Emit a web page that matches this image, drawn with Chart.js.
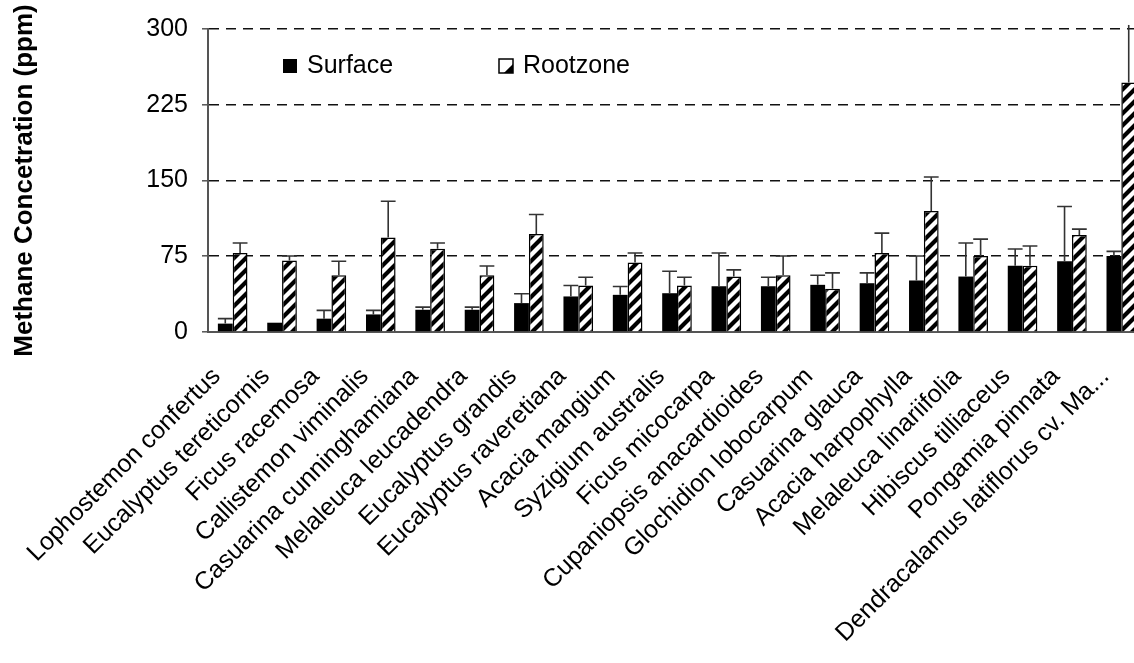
<!DOCTYPE html>
<html>
<head>
<meta charset="utf-8">
<script src="https://cdn.jsdelivr.net/npm/chart.js@4.4.0/dist/chart.umd.min.js"></script>
<style>
  html, body { margin: 0; padding: 0; background: #fff; overflow: hidden; }
  #wrap { width: 1146px; height: 663px; }
</style>
</head>
<body>
<div id="wrap"><canvas id="c" width="1146" height="663"></canvas></div>
<script>
// Methane concentration by tree species, surface vs root zone (ppm)
const species = [
  'Lophostemon confertus', 'Eucalyptus tereticornis', 'Ficus racemosa',
  'Callistemon viminalis', 'Casuarina cunninghamiana', 'Melaleuca leucadendra',
  'Eucalyptus grandis', 'Eucalyptus raveretiana', 'Acacia mangium',
  'Syzigium australis', 'Ficus micocarpa', 'Cupaniopsis anacardioides',
  'Glochidion lobocarpum', 'Casuarina glauca', 'Acacia harpophylla',
  'Melaleuca linariifolia', 'Hibiscus tilliaceus', 'Pongamia pinnata',
  'Dendracalamus latiflorus cv. Ma...'
];
const surface     = [8.3, 9.2, 13.2, 17.4, 22.0, 22.0, 28.6, 35.2, 36.8, 38.4, 45.3, 45.3, 46.7, 48.3, 51.0, 54.9, 65.7, 70.0, 75.3];
const surfaceErr  = [4.9, 0, 8.2, 4.0, 2.6, 2.6, 9.2, 10.8, 8.2, 21.7, 32.9, 8.9, 9.5, 10.2, 24.3, 33.2, 16.5, 54.2, 4.5];
const rootzone    = [78.2, 70.7, 56.2, 93.6, 82.5, 56.2, 97.0, 46.0, 68.7, 46.0, 54.9, 56.2, 42.7, 78.2, 119.9, 75.3, 65.7, 96.0, 247.0];
const rootzoneErr = [9.9, 4.6, 13.8, 35.9, 5.6, 9.2, 19.3, 8.2, 9.5, 8.2, 6.6, 19.1, 15.8, 19.7, 33.5, 16.7, 19.4, 5.9, 57.0];
const yTicks = [0, 75, 150, 225, 300];

const FONT = 'Liberation Sans, Arial, sans-serif';

// diagonal "/" hatch used for the root-zone bars
function hatch() {
  const s = 12;
  const p = document.createElement('canvas');
  p.width = s; p.height = s;
  const g = p.getContext('2d');
  g.fillStyle = '#fff';
  g.fillRect(0, 0, s, s);
  g.strokeStyle = '#000';
  g.lineWidth = 4.2;
  g.beginPath();
  g.moveTo(-s / 2, s / 2); g.lineTo(s / 2, -s / 2);
  g.moveTo(0, s); g.lineTo(s, 0);
  g.moveTo(s / 2, s * 1.5); g.lineTo(s * 1.5, s / 2);
  g.stroke();
  return g.createPattern(p, 'repeat');
}
const stripes = hatch();

// upper standard-error whiskers; a whisker running past the axis top gets no cap
const errorBars = {
  id: 'errorBars',
  afterDatasetsDraw(chart) {
    const { ctx } = chart;
    const yScale = chart.scales.y;
    chart.data.datasets.forEach((ds, i) => {
      const meta = chart.getDatasetMeta(i);
      meta.data.forEach((bar, j) => {
        const e = ds.errors[j];
        if (!e) return;
        const v = ds.data[j] + e;
        const top = yScale.getPixelForValue(v);
        const hw = bar.width / 2;
        ctx.save();
        ctx.strokeStyle = '#333';
        ctx.lineWidth = 1.6;
        ctx.beginPath();
        ctx.moveTo(bar.x, bar.y);
        ctx.lineTo(bar.x, top);
        if (v <= yScale.max) {
          ctx.moveTo(bar.x - hw, top);
          ctx.lineTo(bar.x + hw, top);
        }
        ctx.stroke();
        ctx.restore();
      });
    });
  }
};

// legend drawn inside the plot area
const innerLegend = {
  id: 'innerLegend',
  afterDraw(chart) {
    const { ctx, chartArea } = chart;
    const box = 14;
    const cy = chartArea.top + 37;
    const items = [
      { x: chartArea.left + 75, ds: chart.data.datasets[0] },
      { x: chartArea.left + 291, ds: chart.data.datasets[1] }
    ];
    ctx.save();
    items.forEach((it, k) => {
      const bx = it.x, by = cy - box / 2;
      if (k === 0) {
        ctx.fillStyle = '#000';
        ctx.fillRect(bx, by, box, box);
      } else {
        ctx.fillStyle = '#fff';
        ctx.fillRect(bx, by, box, box);
        ctx.fillStyle = '#000';
        ctx.beginPath();
        ctx.moveTo(bx + box * 0.35, by + box);
        ctx.lineTo(bx + box, by + box * 0.35);
        ctx.lineTo(bx + box, by + box);
        ctx.closePath();
        ctx.fill();
        ctx.strokeStyle = '#000';
        ctx.lineWidth = 1.5;
        ctx.strokeRect(bx, by, box, box);
      }
      ctx.fillStyle = '#000';
      ctx.font = '25px ' + FONT;
      ctx.textBaseline = 'middle';
      ctx.textAlign = 'left';
      ctx.fillText(it.ds.label, bx + box + 10, cy);
    });
    ctx.restore();
  }
};

new Chart(document.getElementById('c'), {
  type: 'bar',
  data: {
    labels: species,
    datasets: [
      {
        label: 'Surface', data: surface, errors: surfaceErr,
        backgroundColor: '#000', borderColor: '#000', borderWidth: 0,
        categoryPercentage: 0.6, barPercentage: 1.0
      },
      {
        label: 'Rootzone', data: rootzone, errors: rootzoneErr,
        backgroundColor: stripes, borderColor: '#000', borderWidth: 1.5,
        categoryPercentage: 0.6, barPercentage: 1.0
      }
    ]
  },
  options: {
    responsive: false,
    animation: false,
    layout: { padding: { top: 28, left: 0, right: 0, bottom: 0 } },
    plugins: { legend: { display: false }, tooltip: { enabled: false } },
    scales: {
      x: {
        grid: { display: true, drawOnChartArea: false, drawTicks: false },
        border: { display: true, color: '#555', width: 2 },
        ticks: {
          autoSkip: false, maxRotation: 45, minRotation: 45,
          color: '#000', font: { size: 25, family: FONT },
          padding: 30, labelOffset: -16
        },
        afterFit(scale) {
          scale.height = 331;
          scale.paddingLeft = 0;
          scale.paddingRight = 0;
        }
      },
      y: {
        min: 0, max: 300,
        afterBuildTicks(scale) { scale.ticks = yTicks.map(v => ({ value: v })); },
        ticks: { color: '#000', font: { size: 25, family: FONT }, padding: 14 },
        grid: {
          color: c => (c.tick && c.tick.value === 0) ? 'rgba(0,0,0,0)' : '#111',
          lineWidth: 1.6, tickLength: 6, tickColor: '#555', tickWidth: 1.5
        },
        border: { display: true, color: '#555', width: 2, dash: [10, 7] },
        title: {
          display: true, text: 'Methane Concetration (ppm)', color: '#000',
          font: { size: 26, weight: 'bold', family: FONT },
          padding: { top: 9, bottom: 0 }
        },
        afterFit(scale) { scale.width = 208; }
      }
    }
  },
  plugins: [errorBars, innerLegend]
});
</script>
</body>
</html>
